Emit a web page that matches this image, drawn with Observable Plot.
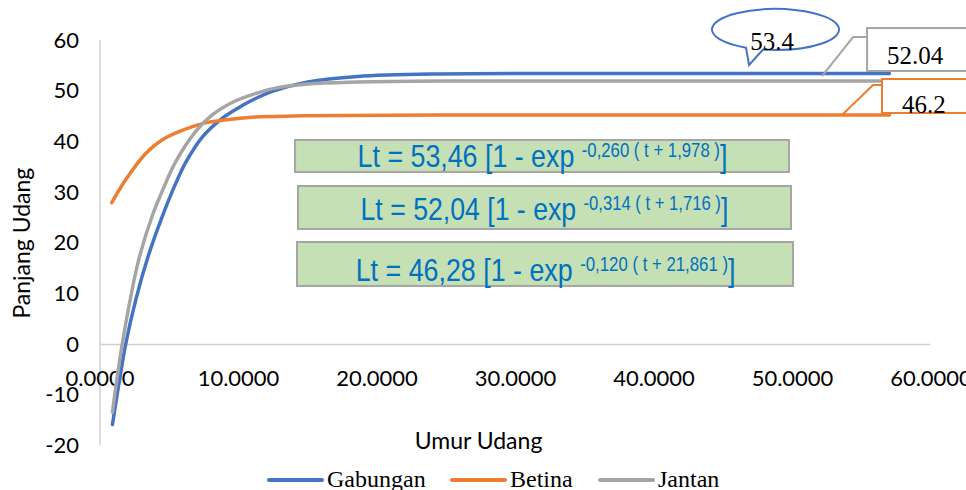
<!DOCTYPE html>
<html>
<head>
<meta charset="utf-8">
<script src="https://cdn.jsdelivr.net/npm/d3@7"></script>
<script src="https://cdn.jsdelivr.net/npm/@observablehq/plot@0.6"></script>
<style>
  body { margin: 0; background: #fff; }
  #chart { position: relative; width: 966px; height: 490px; overflow: hidden; }
</style>
</head>
<body>
<div id="chart"></div>
<script>
// ---- Data ----
const seriesNames = ["Gabungan", "Betina", "Jantan"];
const seriesColors = ["#4472c4", "#ed7d31", "#a5a5a5"];

const gabunganX = [0.9, 1.2, 1.5, 1.85, 2.6, 3.5, 4.5, 5.5, 6.2, 7.4, 8.8, 10.3, 11.2, 12.5, 15, 18.6, 24.6, 35, 45, 57];
const gabunganY = [-15.8, -10.5, -5.5, 0, 9.0, 17.6, 25.3, 32.0, 36.0, 41.0, 44.6, 47.2, 48.5, 50.0, 51.8, 52.9, 53.4, 53.5, 53.5, 53.5];

const betinaX = [0.85, 1.85, 3.3, 4.5, 5.7, 7.4, 9.3, 11.2, 14, 17.4, 24.6, 35, 45, 57];
const betinaY = [28.0, 32.5, 37.7, 40.4, 42.0, 43.6, 44.4, 44.9, 45.1, 45.2, 45.3, 45.3, 45.3, 45.3];

const jantanX = [0.9, 1.2, 1.6, 2.1, 2.8, 3.8, 4.5, 5.45, 6.9, 8.1, 9.8, 11.2, 12.5, 15, 18.6, 24.6, 35, 45, 57];
const jantanY = [-13.4, -7.2, 0, 7.7, 16.8, 25.6, 30.3, 36.0, 42.0, 45.3, 48.1, 49.5, 50.5, 51.4, 51.8, 52.0, 52.0, 52.0, 52.0];

const xTicks = [0, 10, 20, 30, 40, 50, 60];
const yTicks = [-20, -10, 0, 10, 20, 30, 40, 50, 60];

const eqMain = ["Lt = 53,46 [1 - exp ", "Lt = 52,04 [1 - exp ", "Lt = 46,28 [1 - exp "];
const eqSup = ["-0,260 ( t + 1,978 )", "-0,314 ( t + 1,716 )", "-0,120 ( t + 21,861 )"];
const eqEnd = ["]", "]", "]"];

const calloutLabels = ["53.4", "52.04", "46.2"];
const xTitle = "Umur Udang";
const yTitle = "Panjang Udang";

// ---- Table built from the arrays ----
const rows = [
  ...gabunganX.map((x, i) => ({series: "Gabungan", x, y: gabunganY[i]})),
  ...betinaX.map((x, i) => ({series: "Betina", x, y: betinaY[i]})),
  ...jantanX.map((x, i) => ({series: "Jantan", x, y: jantanY[i]}))
];

// ---- Annotation layout (data coordinates) ----
const eqBoxes = [
  {x1: 14.12, x2: 49.78, y1: 40.26, y2: 33.95, tx: 31.95, ty: 37.05, w: 370},
  {x1: 14.33, x2: 49.93, y1: 31.18, y2: 22.70, tx: 32.09, ty: 26.68, w: 368},
  {x1: 14.26, x2: 50.07, y1: 20.13, y2: 11.45, tx: 32.17, ty: 14.64, w: 380}
].map((d, i) => ({...d, i}));

const plot = Plot.plot({
  width: 966,
  height: 490,
  marginLeft: 99.5,
  marginRight: 35.5,
  marginTop: 40,
  marginBottom: 44.7,
  x: {domain: [0, 60], axis: null},
  y: {domain: [-20, 60], axis: null},
  color: {domain: seriesNames, range: seriesColors},
  style: {fontFamily: "Lato, 'Liberation Sans', sans-serif", background: "#fff", color: "#000", overflow: "visible"},
  marks: [
    Plot.ruleX([0], {stroke: "#d0d0d0", strokeWidth: 1.5}),
    Plot.ruleY([0], {stroke: "#d0d0d0", strokeWidth: 1.5}),
    Plot.axisY(yTicks, {tickSize: 0, tickPadding: 21, fontSize: 22, label: null, fill: "#000", tickFormat: d => String(d)}),
    Plot.text(xTicks, {x: d => d, y: 0, dy: 34, text: d => d.toFixed(4), fontSize: 22, fill: "#000"}),
    Plot.text([xTitle], {frameAnchor: "bottom", textAnchor: "middle", lineAnchor: "middle", dx: -37, dy: -4, fontSize: 23, fill: "#000"}),
    Plot.text([yTitle], {frameAnchor: "left", textAnchor: "middle", lineAnchor: "middle", rotate: -90, dx: -77, fontSize: 23, fill: "#000"}),
    Plot.rect(eqBoxes, {x1: "x1", x2: "x2", y1: "y1", y2: "y2", fill: "#c5e0b4", stroke: "#a5a5a5", strokeWidth: 2}),
    Plot.text(eqBoxes, {x: "tx", y: "ty", text: d => eqMain[d.i], className: "eq",
      fontSize: 32, fill: "#0070c0", fontFamily: "'Liberation Sans', Arial, sans-serif"}),
    Plot.line(rows, {x: "x", y: "y", z: "series", stroke: "series", strokeWidth: 3.5, curve: "catmull-rom", strokeLinecap: "round"})
  ]
});

document.getElementById("chart").appendChild(plot);

// superscripts in equations, condensed to the reference's narrow face
const svg = d3.select(plot);
svg.selectAll("g.eq text").each(function(d, k) {
  const t = d3.select(this);
  t.text(null);
  t.append("tspan").text(eqMain[k]);
  t.append("tspan").attr("dy", -10).attr("font-size", 20).text(eqSup[k]);
  t.append("tspan").attr("dy", 10).attr("font-size", 32).text(eqEnd[k]);
  const len = this.getComputedTextLength();
  const s = eqBoxes[k].w / len;
  const x = +t.attr("x") || 0, y = +t.attr("y") || 0;
  const prev = t.attr("transform") || "";
  t.attr("transform", `${prev} translate(${x},${y}) scale(${s},1) translate(${-x},${-y})`);
});

// callouts
const sx = v => plot.scale("x").apply(v);
const sy = v => plot.scale("y").apply(v);
const g = svg.append("g").attr("font-family", "'Liberation Serif', 'Times New Roman', serif").attr("fill", "#000");

// Gabungan: wedge ellipse
{
  const cx = sx(48.81), cy = sy(62.07), rx = 63.5, ry = 20.5;
  const tA = Math.acos(-0.465), tB = Math.acos(-0.197);
  const ax = cx + rx * Math.cos(tA), ay = cy + ry * Math.sin(tA);
  const bx = cx + rx * Math.cos(tB), by = cy + ry * Math.sin(tB);
  const tipx = sx(46.9), tipy = sy(55.06);
  g.append("path")
    .attr("d", `M${ax},${ay} A${rx},${ry} 0 1 1 ${bx},${by} L${tipx},${tipy} Z`)
    .attr("fill", "#fff").attr("stroke", seriesColors[0]).attr("stroke-width", 2);
  g.append("text").attr("x", sx(48.56)).attr("y", sy(58.02)).attr("text-anchor", "middle")
    .attr("font-size", 25).text(calloutLabels[0]);
}
// Jantan: rectangle callout
{
  g.append("polyline").attr("points", [[52.17, 52.89], [54.41, 60.59], [55.42, 60.59]].map(([a, b]) => `${sx(a)},${sy(b)}`).join(" "))
    .attr("fill", "none").attr("stroke", seriesColors[2]).attr("stroke-width", 2);
  g.append("rect").attr("x", sx(55.42)).attr("y", sy(62.36)).attr("width", sx(63.2) - sx(55.42)).attr("height", sy(53.88) - sy(62.36))
    .attr("fill", "#fff").attr("stroke", seriesColors[2]).attr("stroke-width", 2);
  g.append("text").attr("x", sx(56.86)).attr("y", sy(55.26)).attr("text-anchor", "start").attr("font-size", 25).text(calloutLabels[1]);
}
// Betina: rectangle callout
{
  g.append("polyline").attr("points", [[53.61, 45.19], [55.85, 51.12], [56.5, 51.12]].map(([a, b]) => `${sx(a)},${sy(b)}`).join(" "))
    .attr("fill", "none").attr("stroke", seriesColors[1]).attr("stroke-width", 2);
  g.append("rect").attr("x", sx(56.5)).attr("y", sy(52.3)).attr("width", sx(63.2) - sx(56.5)).attr("height", sy(45.59) - sy(52.3))
    .attr("fill", "#fff").attr("stroke", seriesColors[1]).attr("stroke-width", 2);
  g.append("text").attr("x", sx(57.94)).attr("y", sy(45.59)).attr("text-anchor", "start").attr("font-size", 25).text(calloutLabels[2]);
}

// legend
{
  const lg = svg.append("g").attr("font-family", "'Liberation Serif', 'Times New Roman', serif")
    .attr("font-size", 24).attr("fill", "#000").attr("text-anchor", "start");
  const starts = [269, 452, 600];
  seriesNames.forEach((name, i) => {
    lg.append("line").attr("x1", starts[i]).attr("x2", starts[i] + 53).attr("y1", 480).attr("y2", 480)
      .attr("stroke", seriesColors[i]).attr("stroke-width", 4).attr("stroke-linecap", "round");
    lg.append("text").attr("x", starts[i] + 58).attr("y", 487).text(name);
  });
}
</script>
</body>
</html>
